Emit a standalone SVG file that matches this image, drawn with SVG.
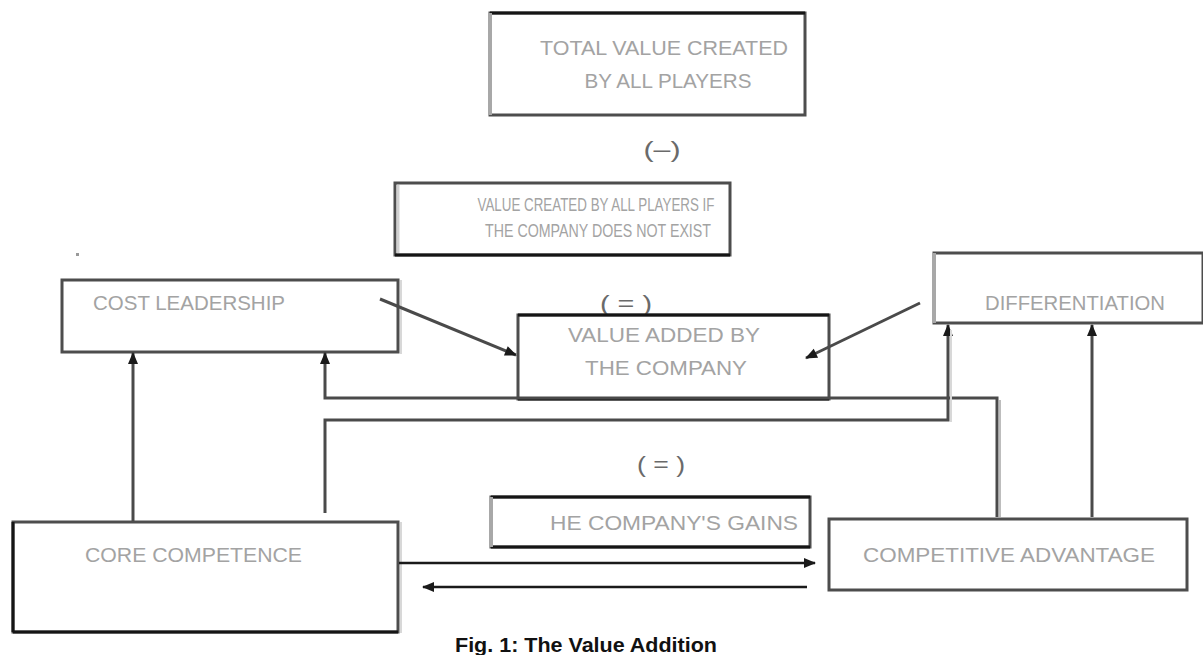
<svg xmlns="http://www.w3.org/2000/svg" width="1203" height="655" viewBox="0 0 1203 655">
  <style>
    .box { fill: #ffffff; stroke: #4d4d4d; stroke-width: 3; }
    .edge-dark { stroke: #151515; stroke-width: 3; fill: none; }
    .edge-light { stroke: #a8a8a8; stroke-width: 4; fill: none; }
    .lbl { font-family: "Liberation Sans", Arial, sans-serif; font-size: 21px; fill: #a3a3a3; }
    .sign { font-family: "Liberation Sans", Arial, sans-serif; font-size: 22px; fill: #6a6a6a; }
    .conn { fill: none; stroke: #4a4a4a; stroke-width: 3; }
    .conn-thin { fill: none; stroke: #1a1a1a; stroke-width: 2.5; }
    .caption { font-family: "Liberation Sans", Arial, sans-serif; font-size: 20px; font-weight: bold; fill: #111111; }
  </style>
  <defs>
    <marker id="arrow" markerUnits="userSpaceOnUse" markerWidth="14" markerHeight="14" refX="12" refY="7" orient="auto">
      <path d="M1,2 L13,7 L1,12 Z" fill="#1a1a1a"/>
    </marker>
  </defs>

  <rect width="1203" height="655" fill="#ffffff"/>

  <!-- stray dot -->
  <rect x="76" y="253" width="3" height="3" fill="#9a9a9a"/>

  <!-- operators between the blocks -->
  <text class="sign" x="662" y="157" text-anchor="middle" textLength="37" lengthAdjust="spacingAndGlyphs">(–)</text>
  <text class="sign" x="626" y="311" text-anchor="middle" textLength="52" lengthAdjust="spacingAndGlyphs">( = )</text>
  <text class="sign" x="661" y="472" text-anchor="middle" textLength="48" lengthAdjust="spacingAndGlyphs">( = )</text>

  <g id="total-value">
    <rect class="box" x="490" y="13" width="315" height="102"/>
    <line class="edge-dark" x1="490" y1="13" x2="805" y2="13"/>
    <line class="edge-light" x1="490" y1="13" x2="490" y2="115"/>
    <text class="lbl" x="664" y="55" text-anchor="middle" textLength="248" lengthAdjust="spacingAndGlyphs">TOTAL VALUE CREATED</text>
    <text class="lbl" x="668" y="88" text-anchor="middle" textLength="167" lengthAdjust="spacingAndGlyphs">BY ALL PLAYERS</text>
  </g>

  <g id="value-without-company">
    <rect class="box" x="395" y="183" width="335" height="72"/>
    <line class="edge-dark" x1="395" y1="255" x2="730" y2="255"/>
    <line x1="398" y1="185" x2="398" y2="253" stroke="#d0d0d0" stroke-width="3"/>
    <text class="lbl" x="596" y="211" text-anchor="middle" textLength="237" lengthAdjust="spacingAndGlyphs" style="font-size:18px">VALUE CREATED BY ALL PLAYERS IF</text>
    <text class="lbl" x="598" y="237" text-anchor="middle" textLength="226" lengthAdjust="spacingAndGlyphs" style="font-size:18px">THE COMPANY DOES NOT EXIST</text>
  </g>

  <g id="cost-leadership">
    <rect class="box" x="62" y="280" width="336" height="72"/>
    <line x1="401" y1="280" x2="401" y2="354" stroke="#d8d8d8" stroke-width="2"/>
    <text class="lbl" x="93" y="310" textLength="192" lengthAdjust="spacingAndGlyphs">COST LEADERSHIP</text>
  </g>

  <g id="value-added">
    <rect class="box" x="518" y="315" width="311" height="84"/>
    <line class="edge-dark" x1="518" y1="315" x2="829" y2="315"/>
    <line class="edge-dark" x1="518" y1="399" x2="829" y2="399"/>
    <text class="lbl" x="664" y="342" text-anchor="middle" textLength="192" lengthAdjust="spacingAndGlyphs">VALUE ADDED BY</text>
    <text class="lbl" x="666" y="375" text-anchor="middle" textLength="162" lengthAdjust="spacingAndGlyphs">THE COMPANY</text>
  </g>

  <g id="differentiation">
    <rect class="box" x="934" y="253" width="269" height="70"/>
    <line class="edge-light" x1="934" y1="253" x2="934" y2="323"/>
    <text class="lbl" x="985" y="310" textLength="180" lengthAdjust="spacingAndGlyphs">DIFFERENTIATION</text>
  </g>

  <g id="company-gains">
    <rect class="box" x="491" y="497" width="319" height="50"/>
    <line class="edge-dark" x1="491" y1="497" x2="810" y2="497"/>
    <line class="edge-dark" x1="491" y1="547" x2="810" y2="547"/>
    <line class="edge-light" x1="491" y1="497" x2="491" y2="547"/>
    <text class="lbl" x="550" y="530" textLength="248" lengthAdjust="spacingAndGlyphs">HE COMPANY'S GAINS</text>
  </g>

  <g id="core-competence">
    <rect class="box" x="13" y="522" width="385" height="110"/>
    <line class="edge-dark" x1="13" y1="522" x2="13" y2="632"/>
    <line class="edge-dark" x1="13" y1="632" x2="398" y2="632"/>
    <line x1="401" y1="522" x2="401" y2="633" stroke="#d8d8d8" stroke-width="2"/>
    <text class="lbl" x="85" y="562" textLength="217" lengthAdjust="spacingAndGlyphs">CORE COMPETENCE</text>
  </g>

  <g id="competitive-advantage">
    <rect class="box" x="829" y="519" width="358" height="71"/>
    <text class="lbl" x="863" y="562" textLength="292" lengthAdjust="spacingAndGlyphs">COMPETITIVE ADVANTAGE</text>
  </g>

  <g id="connectors">
    <!-- cost leadership -> value added -->
    <line class="conn" x1="380" y1="299" x2="516" y2="355" marker-end="url(#arrow)"/>
    <!-- differentiation -> value added -->
    <line class="conn" x1="920" y1="303" x2="806" y2="358" marker-end="url(#arrow)"/>
    <!-- core competence -> cost leadership -->
    <line class="conn" x1="133" y1="521" x2="133" y2="353" marker-end="url(#arrow)"/>
    <!-- competitive advantage -> cost leadership -->
    <polyline class="conn" points="997,517 997,398 325,398 325,353" marker-end="url(#arrow)"/>
    <line x1="1000" y1="400" x2="1000" y2="517" stroke="#bdbdbd" stroke-width="2"/>
    <!-- core competence -> differentiation -->
    <polyline class="conn" points="325,513 325,420 948,420 948,325" marker-end="url(#arrow)"/>
    <line x1="951" y1="330" x2="951" y2="422" stroke="#d8d8d8" stroke-width="2"/>
    <!-- competitive advantage -> differentiation -->
    <line class="conn" x1="1092" y1="517" x2="1092" y2="325" marker-end="url(#arrow)"/>
    <!-- core competence <-> competitive advantage -->
    <line class="conn-thin" x1="399" y1="563" x2="815" y2="563" marker-end="url(#arrow)"/>
    <line class="conn-thin" x1="807" y1="587" x2="423" y2="587" marker-end="url(#arrow)"/>
  </g>

  <text class="caption" x="455" y="652" textLength="262" lengthAdjust="spacingAndGlyphs">Fig. 1:  The Value Addition</text>
</svg>
